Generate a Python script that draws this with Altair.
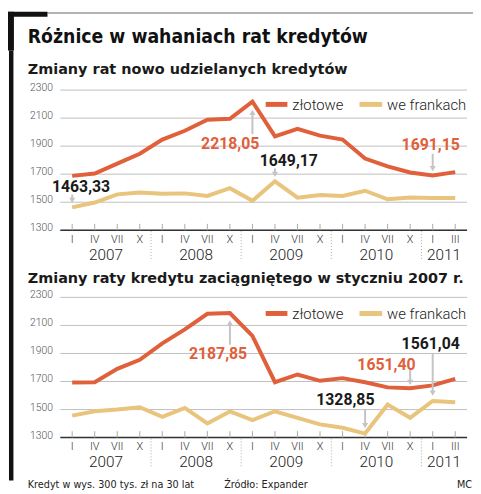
import altair as alt
import pandas as pd

# ---------------- data ----------------
quarters = ["I", "IV", "VII", "X"] * 4 + ["I", "III"]
years = ["2007", "2008", "2009", "2010", "2011"]
year_centers = [1.5, 5.5, 9.5, 13.5, 16.5]
year_separators = [3.5, 7.5, 11.5, 15.5]
y_ticks = [1300, 1500, 1700, 1900, 2100, 2300]
series = ["złotowe", "we frankach"]

p1_zl = [1688, 1705, 1775, 1846, 1947, 2010, 2088, 2095, 2218.05, 1970, 2023, 1975,
         1947, 1811, 1755, 1712, 1691.15, 1715]
p1_fr = [1463.33, 1498, 1556, 1570, 1561, 1563, 1545, 1600, 1510, 1649.17, 1533, 1552,
         1545, 1582, 1521, 1533, 1530, 1530]
p2_zl = [1693, 1695, 1790, 1855, 1972, 2072, 2183, 2187.85, 2025, 1695, 1750, 1705,
         1724, 1695, 1658, 1651.40, 1672, 1719]
p2_fr = [1457, 1488, 1500, 1516, 1448, 1512, 1401, 1486, 1425, 1488, 1441, 1394,
         1370, 1328.85, 1535, 1441, 1561.04, 1552]

title = "Różnice w wahaniach rat kredytów"
sub1 = "Zmiany rat nowo udzielanych kredytów"
sub2 = "Zmiany raty kredytu zaciągniętego w styczniu 2007 r."
foot_left = "Kredyt w wys. 300 tys. zł na 30 lat"
foot_mid = "Źródło: Expander"
foot_right = "MC"

# ---------------- styles ----------------
RED = "#e0603b"
YEL = "#e8c47c"
GRAY_ARROW = "#c4c4c4"
FONT = "Roboto"
TITLE_FONT = "DejaVu Sans Condensed"
SUB_FONT = "DejaVu Sans"
W, H = 412, 142

xs = alt.Scale(domain=[-0.526, 17.526], nice=False, zero=False)
ys = alt.Scale(domain=[1300, 2300], nice=False, zero=False)
cs = alt.Scale(domain=series, range=[RED, YEL])

y_axis = alt.Axis(
    values=y_ticks, format="d", grid=False, domain=False, ticks=False,
    labelPadding=8, labelFontSize=10.5, labelFont=FONT,
    labelFontWeight=300, labelColor="#555", labelOffset=-2.5, title=None)

X = alt.X("i:Q", scale=xs, axis=None)
Y = alt.Y("v:Q", scale=ys, axis=y_axis)


def fmt(v):
    return f"{v:.2f}".replace(".", ",")


def annot(i, v, color, dx, dy, tail, tip):
    d = pd.DataFrame({"i": [i], "v": [v], "t": [fmt(v)]})
    up = tail > 0
    txt = alt.Chart(d).mark_text(
        dx=dx, dy=dy, font=FONT, fontWeight="bold", fontSize=16, color=color,
        baseline="middle", align="center"
    ).encode(x=X, y=Y, text="t:N")
    rule = alt.Chart(d).mark_rule(
        color=GRAY_ARROW, strokeWidth=2, yOffset=tail,
        y2Offset=(tip + 4) if up else (tip - 4)
    ).encode(x=X, y=Y, y2="v")
    head = alt.Chart(d).mark_point(
        shape="triangle-up" if up else "triangle-down", filled=True, size=38,
        color=GRAY_ARROW, opacity=1, yOffset=(tip + 3) if up else (tip - 3)
    ).encode(x=X, y=Y)
    return [rule, head, txt]


def legend(ly):
    out = []
    for name, col, x1, x2, tx in [(series[0], RED, 208, 230, 235),
                                  (series[1], YEL, 303, 326, 331)]:
        d = pd.DataFrame({"s": [name]})
        out.append(alt.Chart(d).mark_rule(strokeWidth=5, color=col).encode(
            x=alt.value(x1), x2=alt.value(x2), y=alt.value(ly)))
        out.append(alt.Chart(d).mark_text(
            align="left", baseline="alphabetic", font=FONT, fontWeight=300,
            fontSize=15, color="#222").encode(
            x=alt.value(tx), y=alt.value(ly + 5.2), text="s:N"))
    return out


def panel(zl, fr, subtitle, sub_y, leg_y, annots, extra):
    df = pd.DataFrame({
        "i": list(range(len(zl))) * 2,
        "v": zl + fr,
        "s": [series[0]] * len(zl) + [series[1]] * len(fr),
    })
    grid = alt.Chart(pd.DataFrame({"v": y_ticks})).mark_rule(
        color="#bfbfbf", strokeWidth=1).encode(y=Y)
    baseline = alt.Chart(pd.DataFrame({"v": [y_ticks[0]]})).mark_rule(
        color="#333", strokeWidth=1.5).encode(y=Y)
    qdf = pd.DataFrame({"i": list(range(len(quarters))), "q": quarters})
    ticks = alt.Chart(qdf).mark_rule(color="#aaa", strokeWidth=1).encode(
        x=X, y=alt.value(H - 6.5), y2=alt.value(H))
    qlab = alt.Chart(qdf).mark_text(
        font=FONT, fontWeight=300, fontSize=11, color="#333",
        baseline="middle").encode(x=X, y=alt.value(H + 9.5), text="q:N")
    ydf = pd.DataFrame({"i": year_centers, "y": years})
    ylab = alt.Chart(ydf).mark_text(
        font=FONT, fontWeight=300, fontSize=15.5, color="#222",
        baseline="middle").encode(x=X, y=alt.value(H + 25), text="y:N")
    seps = alt.Chart(pd.DataFrame({"i": year_separators})).mark_rule(
        color="#aaa", strokeWidth=1, strokeDash=[1, 2]).encode(
        x=X, y=alt.value(H + 1), y2=alt.value(H + 29))
    lines = alt.Chart(df).mark_line(strokeWidth=4, strokeJoin="miter").encode(
        x=X, y=Y, color=alt.Color("s:N", scale=cs, legend=None),
        order=alt.Order("i:Q"), detail="s:N")
    sub = alt.Chart(pd.DataFrame({"t": [subtitle]})).mark_text(
        align="left", baseline="alphabetic", font=SUB_FONT, fontWeight="bold",
        fontSize=14.6, color="#1a1a1a").encode(
        x=alt.value(-33), y=alt.value(sub_y), text="t:N")
    layers = [grid, baseline, ticks, seps, qlab, ylab, lines, sub] + legend(leg_y)
    for a in annots:
        layers += annot(*a)
    layers += extra
    return alt.layer(*layers).properties(width=W, height=H)


def box(x1, x2, y1, y2, col):
    return alt.Chart(pd.DataFrame({"k": [0]})).mark_rect(color=col, strokeWidth=0).encode(
        x=alt.value(x1), x2=alt.value(x2), y=alt.value(y1), y2=alt.value(y2))


# frame and main title (panel 1)
frame = [
    box(-13, 418, -78.8, -77.3, "#9a9a9a"),
    box(-53, -13, -79.3, -74.3, "#111"),
    box(-53, -47, -79.3, -40, "#111"),
    box(-52, -47.5, -40, 395.5, "#111"),
    alt.Chart(pd.DataFrame({"t": [title]})).mark_text(
        align="left", baseline="alphabetic", font=TITLE_FONT, fontWeight="bold",
        fontSize=19.5, color="#111").encode(x=alt.value(-33), y=alt.value(-48), text="t:N"),
]

footer = [
    alt.Chart(pd.DataFrame({"t": [foot_left]})).mark_text(
        align="left", baseline="alphabetic", font=SUB_FONT, fontSize=9.8, color="#222"
    ).encode(x=alt.value(-33), y=alt.value(193), text="t:N"),
    alt.Chart(pd.DataFrame({"t": [foot_mid]})).mark_text(
        align="left", baseline="alphabetic", font=SUB_FONT, fontSize=9.8, color="#222"
    ).encode(x=alt.value(166), y=alt.value(193), text="t:N"),
    alt.Chart(pd.DataFrame({"t": [foot_right]})).mark_text(
        align="right", baseline="alphabetic", font=SUB_FONT, fontSize=9.8, color="#222"
    ).encode(x=alt.value(417), y=alt.value(193), text="t:N"),
]

annots1 = [
    (8, p1_zl[8], RED, -22.5, 43, 33, 8),
    (9, p1_fr[9], "#1a1a1a", 14, -21, -13, -4),
    (0, p1_fr[0], "#1a1a1a", 9, -21, -13, -4),
    (16, p1_zl[16], RED, -2, -30.5, -22, -4),
]
annots2 = [
    (7, p2_zl[7], RED, -12, 41.5, 32, 7),
    (15, p2_zl[15], RED, -24, -24, -19, -3),
    (16, p2_fr[16], "#1a1a1a", -2, -57.5, -48, -5),
    (13, p2_fr[13], "#1a1a1a", -20, -33.5, -25, -5),
]

panel1 = panel(p1_zl, p1_fr, sub1, -16.6, 14.5, annots1, frame)
panel2 = panel(p2_zl, p2_fr, sub2, -15, 16.3, annots2, footer)

chart = alt.vconcat(panel1, panel2, spacing=68, bounds="flush").properties(
    padding=0).configure_view(stroke=None)

chart.save("out.html", embed_options={"renderer": "svg", "actions": False})
